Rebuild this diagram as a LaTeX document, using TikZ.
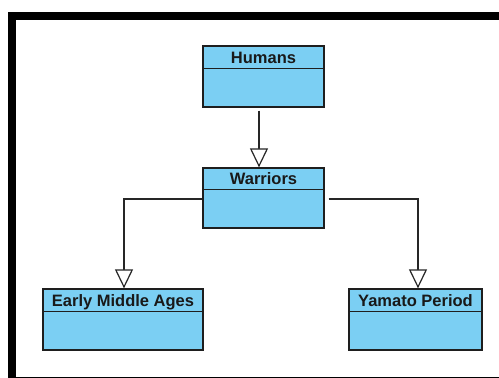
\documentclass[tikz,border=0pt]{standalone}
\usepackage{fontspec}
\setmainfont{Liberation Sans}
\usetikzlibrary{arrows.meta}
\definecolor{classfill}{RGB}{123,207,243}
\definecolor{classline}{RGB}{30,30,30}
\tikzset{
  classbox/.style={draw=classline, line width=1.3pt, fill=classfill, inner sep=0pt},
  classtitle/.style={font=\bfseries\fontsize{16.5}{18}\selectfont, text=black!90, inner sep=0pt, anchor=base},
  divider/.style={draw=classline, line width=1.1pt},
  generalization/.style={draw=black!85, line width=1.2pt,
    -{Triangle[open, length=19pt, width=18pt, fill=white, line width=1.2pt]}},
}
\begin{document}
\begin{tikzpicture}[x=1pt, y=-1pt]
  % page area and frame
  \useasboundingbox (0,0) rectangle (499,378);
  \fill[white] (0,0) rectangle (499,378);
  \fill[black] (8,12) rectangle (16,378);
  \fill[black] (8,12) rectangle (499,20);
  \fill[black] (16,376.5) rectangle (499,378);

  % classes
  \node[classbox, minimum width=121pt, minimum height=61pt] (hum) at (263.5,76.5) {};
  \node[classbox, minimum width=121pt, minimum height=60pt] (war) at (263.5,198) {};
  \node[classbox, minimum width=160pt, minimum height=61pt] (ema) at (123,319.5) {};
  \node[classbox, minimum width=133pt, minimum height=61pt] (yam) at (415.5,319.5) {};

  % name compartments
  \draw[divider] ([yshift=-23pt]hum.north west) -- ([yshift=-23pt]hum.north east);
  \draw[divider] ([yshift=-22pt]war.north west) -- ([yshift=-22pt]war.north east);
  \draw[divider] ([yshift=-23pt]ema.north west) -- ([yshift=-23pt]ema.north east);
  \draw[divider] ([yshift=-23pt]yam.north west) -- ([yshift=-23pt]yam.north east);

  \node[classtitle] (humt) at ([yshift=-18pt]hum.north) {Humans};
  \node[classtitle] (wart) at ([yshift=-17.5pt]war.north) {Warriors};
  \node[classtitle] (emat) at ([yshift=-18pt]ema.north) {Early Middle Ages};
  \node[classtitle] (yamt) at ([yshift=-18pt]yam.north) {Yamato Period};

  % generalizations
  \draw[generalization] ([xshift=-4.5pt, yshift=-3pt]hum.south) -- ([xshift=-4.5pt]war.north);
  \draw[generalization] ([yshift=-1pt]war.west) -| ([xshift=1pt]ema.north);
  \draw[generalization] ([xshift=4pt, yshift=-1pt]war.east) -| ([xshift=2.5pt]yam.north);
\end{tikzpicture}
\end{document}
